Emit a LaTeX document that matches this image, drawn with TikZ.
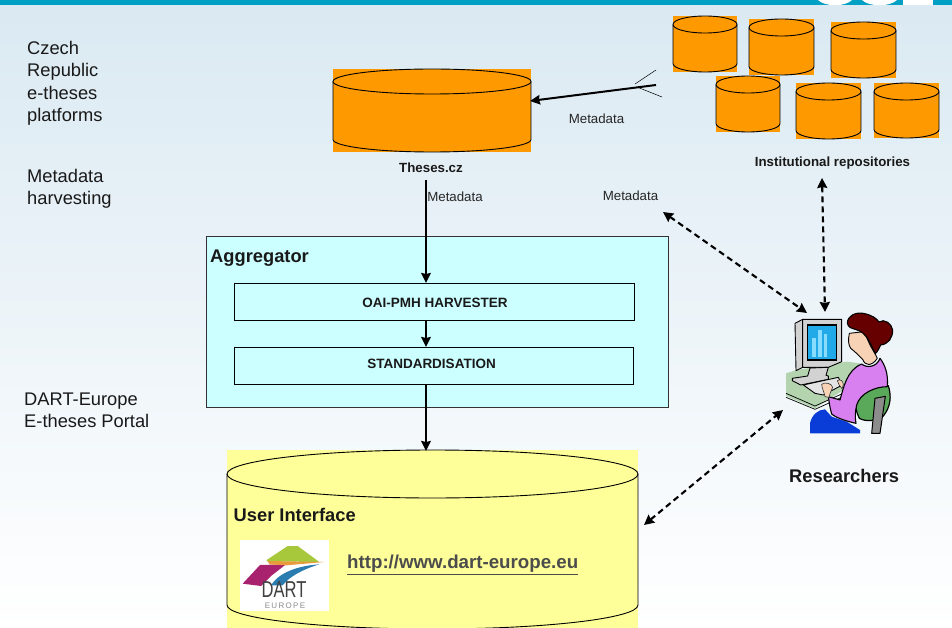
\documentclass[tikz,border=0pt]{standalone}
\usepackage{fontspec}
\setmainfont{Liberation Sans}
\usetikzlibrary{arrows.meta}
\definecolor{orng}{HTML}{FF9900}
\definecolor{teal}{HTML}{00A0C4}
\definecolor{aggr}{HTML}{CCFFFF}
\definecolor{yell}{HTML}{FFFF99}
\definecolor{bgtop}{HTML}{DAE9F2}
\definecolor{deskg}{HTML}{B4D4B0}
\definecolor{chairg}{HTML}{5AA85A}
\definecolor{monit}{HTML}{D2D2D2}
\definecolor{scrn}{HTML}{22AAE8}
\definecolor{barc}{HTML}{88DDFF}
\definecolor{purp}{HTML}{D880F0}
\definecolor{skin}{HTML}{F8D2B4}
\definecolor{hairc}{HTML}{660000}
\definecolor{trous}{HTML}{0A3CD8}
\definecolor{lpurple}{HTML}{A8226E}
\definecolor{lgreen}{HTML}{A8C83C}
\definecolor{lorange}{HTML}{E89A3C}
\definecolor{lblue}{HTML}{2A7CB0}
\tikzset{
  x=1pt,y=-1pt,
  side/.style={font=\fontsize{18.3}{22.4}\selectfont,align=left,anchor=north west,inner sep=0pt,text=black!90},
  small/.style={font=\fontsize{13.3}{15}\selectfont,inner sep=0pt,text=black!85},
  boldsmall/.style={font=\bfseries\fontsize{13.3}{15}\selectfont,inner sep=0pt,text=black!90},
  boldbig/.style={font=\bfseries\fontsize{18.3}{21}\selectfont,inner sep=0pt,anchor=west,text=black!90},
  boxtext/.style={font=\bfseries\fontsize{13.5}{15}\selectfont,inner sep=0pt,text=black!90},
  stagebox/.style={draw=black,line width=0.6pt,fill=aggr,minimum height=37pt,inner sep=0pt,anchor=north west},
  solidarrow/.style={line width=2pt,-{Stealth[length=10pt,width=9.5pt,inset=1pt]}},
  dasharrow/.style={line width=2.1pt,dash pattern=on 6pt off 4pt,{Stealth[length=10pt,width=10pt,inset=1pt]}-{Stealth[length=10pt,width=10pt,inset=1pt]}},
  cylline/.style={draw=black,line width=0.9pt},
  outl/.style={draw=black,line width=0.9pt},
}
\newcommand{\cyl}[6]{%
  \fill[#6] (#1,#2) rectangle (#3,#4);
  \path[cylline] (#1,{#2+#5}) arc[start angle=180,end angle=360,x radius={(#3-#1)/2},y radius=#5]
     -- (#3,{#4-#5}) arc[start angle=0,end angle=180,x radius={(#3-#1)/2},y radius=#5] -- cycle;
  \path[cylline] (#1,{#2+#5}) arc[start angle=180,end angle=0,x radius={(#3-#1)/2},y radius=#5];
}
\begin{document}
\begin{tikzpicture}
\useasboundingbox (0,0) rectangle (952,628);
\shade[top color=bgtop,bottom color=white] (0,0) rectangle (952,628);
% top band
\fill[teal] (0,0) rectangle (952,5);
\fill[white] (818,0) .. controls (825,7) and (845,7) .. (852,0) -- cycle;
\fill[white] (862,0) .. controls (869,7) and (890,7) .. (897,0) -- cycle;
\fill[white] (903,0) rectangle (933,5);
% side labels
\node[side] (lab1) at (27,41) {Czech\\Republic\\e-theses\\platforms};
\node[side] (lab2) at (27,169) {Metadata\\harvesting};
\node[side] (lab3) at (24,392.5) {DART-Europe\\E-theses Portal};
% cylinders
\cyl{333}{69}{531}{152}{12.5}{orng}
\cyl{673}{16}{737}{72}{8.5}{orng}
\cyl{749}{19}{814}{75}{8.5}{orng}
\cyl{831}{22}{896}{78}{8.5}{orng}
\cyl{716}{76}{780}{132}{8.5}{orng}
\cyl{796}{83}{861}{139}{8.5}{orng}
\cyl{874}{83}{939}{138}{8.5}{orng}
\node[boldsmall] (theses) at (431,168) {Theses.cz};
\node[boldsmall] (inst) at (832.5,163) {Institutional repositories};
% metadata labels
\node[small] (m1) at (596.5,118.5) {Metadata};
\node[small] (m2) at (455,197) {Metadata};
\node[small] (m3) at (630.5,195.5) {Metadata};
% fork
\coordinate (forkend) at (656,85);
\coordinate (cylin) at (530,101);
\draw[solidarrow] (forkend) -- (cylin);
\draw[line width=0.5pt] (635,84) -- (656,70);
\draw[line width=0.5pt] (637,87) -- (662,97);
% aggregator
\node[draw=black!80,line width=0.7pt,fill=aggr,minimum width=462pt,minimum height=171pt,inner sep=0pt,anchor=north west] (agg) at (206,236) {};
\node[boldbig] (aggt) at (210,258.5) {Aggregator};
\node[stagebox,minimum width=400pt] (oai) at (234,283) {};
\node[stagebox,minimum width=399pt] (std) at (234,347) {};
\node[boxtext] (oait) at (435,302.5) {OAI-PMH HARVESTER};
\node[boxtext] (stdt) at (431.5,363.5) {STANDARDISATION};
% yellow cylinder
\cyl{227}{450}{638}{629}{24}{yell}
\node[boldbig] (ui) at (233.5,515) {User Interface};
\node[font=\bfseries\fontsize{18.7}{22}\selectfont,inner sep=0pt,anchor=west,text=black!70] (url) at (347,565) {\underline{http://www.dart-europe.eu}};
% logo
\fill[white] (240,540) rectangle (329,611);
\begin{scope}[shift={(236,536)},scale=0.33333]
\fill[lpurple] (20,143) -- (72,87) -- (150,85) -- (105,120) -- (75,150) -- cycle;
\fill[lgreen] (92,72) -- (155,30) -- (185,30) -- (250,78) -- (92,76) -- cycle;
\fill[lorange] (95,75) -- (265,78) -- (150,88) -- (100,85) -- cycle;
\fill[lblue] (105,148) .. controls (125,115) and (175,90) .. (250,85) .. controls (200,100) and (160,122) .. (140,148) -- cycle;
\end{scope}
\node[font=\fontsize{23}{23}\selectfont,inner sep=0pt,text=black!75,xscale=0.72] (dart) at (284,590) {DART};
\node[font=\fontsize{8}{8}\selectfont,inner sep=0pt,text=black!45] (eur) at (285,606) {E\,U\,R\,O\,P\,E};
% main vertical arrows
\draw[solidarrow] (426,180) -- (oai.north -| 426,0);
\draw[solidarrow] (oai.south -| 426,0) -- (std.north -| 426,0);
\draw[solidarrow] (std.south -| 426,0) -- (426,451);
% researcher clipart, traced in a 3x frame
\begin{scope}[shift={(760,290)},scale=0.33333,line join=round]
\fill[deskg] (78,250) -- (110,240) -- (260,215) -- (300,220) -- (250,300) -- (165,355) -- (78,318) -- cycle;
\draw[black,line width=0.7pt] (78,310) -- (165,348) -- (245,312);
\draw[black,line width=0.7pt] (78,322) -- (165,358) -- (245,322);
\draw[outl,fill=monit] (105,100) -- (128,88) -- (128,232) -- (108,242) -- cycle;
\draw[outl,fill=monit] (128,88) -- (245,88) -- (245,215) -- (205,232) -- (128,232) -- cycle;
\fill[black] (140,103) rectangle (232,213);
\fill[scrn] (145,107) rectangle (228,208);
\fill[barc] (157,145) rectangle (168,200);
\fill[barc] (175,120) rectangle (187,200);
\fill[barc] (192,133) rectangle (200,200);
\draw[outl,fill=monit] (150,234) -- (143,258) -- (97,265) -- (97,272) -- (122,285) -- (205,268) -- (205,258) -- (198,256) -- (205,232) -- cycle;
\draw[outl,fill=monit!60] (130,285) -- (235,262) -- (247,285) -- (190,315) -- (165,310) -- cycle;
% trousers
\fill[trous] (150,430) -- (150,400) .. controls (155,375) and (175,358) .. (195,358) -- (215,380) -- (260,395) -- (300,420) -- (300,430) -- cycle;
% chair
\draw[black,line width=1.2pt,fill=chairg] (288,325) .. controls (295,300) and (350,280) .. (385,287) .. controls (395,320) and (392,350) .. (370,378) .. controls (350,395) and (315,395) .. (298,385) .. controls (288,365) and (284,345) .. (288,325) -- cycle;
\draw[black,line width=1pt,fill=black!45] (345,325) -- (376,319) -- (360,430) -- (335,430) -- cycle;
% body
\draw[black,line width=1.1pt,fill=purp] (305,222) .. controls (320,235) and (350,232) .. (360,205) .. controls (375,225) and (385,250) .. (382,290) .. controls (345,290) and (300,310) .. (290,345) .. controls (285,365) and (285,385) .. (288,400) .. controls (265,395) and (230,385) .. (215,372) .. controls (210,355) and (208,340) .. (205,320) -- (240,330) .. controls (250,295) and (260,240) .. (305,222) -- cycle;
% hands
\draw[black!80,line width=0.6pt,fill=skin] (185,283) .. controls (195,275) and (215,280) .. (218,292) .. controls (212,305) and (208,315) .. (207,322) -- (195,320) .. controls (192,305) and (186,295) .. (185,283) -- cycle;
\draw[black!80,line width=0.6pt,fill=skin] (232,272) .. controls (240,266) and (250,272) .. (250,285) -- (246,296) .. controls (240,288) and (234,282) .. (232,272) -- cycle;
% head
\draw[black,line width=0.9pt,fill=skin] (268,130) .. controls (264,150) and (265,165) .. (272,175) .. controls (285,185) and (295,195) .. (308,208) .. controls (315,228) and (335,230) .. (352,205) .. controls (345,190) and (335,175) .. (330,165) -- (312,125) -- cycle;
% hair
\draw[black,line width=1.1pt,fill=hairc] (262,100) .. controls (262,78) and (285,66) .. (310,70) .. controls (335,75) and (350,85) .. (357,96) .. controls (372,85) and (395,100) .. (398,120) .. controls (398,145) and (385,162) .. (362,165) .. controls (358,175) and (352,185) .. (347,190) .. controls (340,180) and (335,168) .. (328,155) .. controls (320,135) and (300,120) .. (285,118) .. controls (275,116) and (265,112) .. (262,100) -- cycle;
\end{scope}
\node[boldbig] (res) at (789,475.5) {Researchers};
% dashed arrows
\coordinate (r1) at (807,313);
\coordinate (r2) at (825,312);
\coordinate (r3) at (783,410);
\coordinate (t1) at (663,212);
\coordinate (t2) at (822,178);
\coordinate (t3) at (644,525);
\draw[dasharrow] (t1) -- (r1);
\draw[dasharrow] (t2) -- (r2);
\draw[dasharrow] (t3) -- (r3);
\end{tikzpicture}
\end{document}
